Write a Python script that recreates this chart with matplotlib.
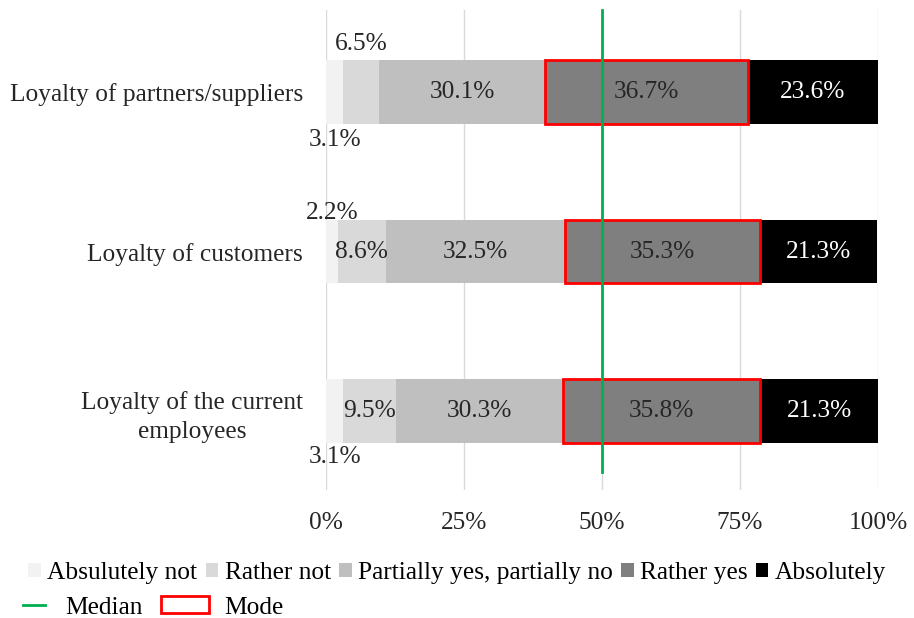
import matplotlib.pyplot as plt
from matplotlib.patches import Patch, Rectangle
from matplotlib.lines import Line2D

plt.rcParams['font.family'] = ['Liberation Serif', 'DejaVu Serif']

categories = ['Loyalty of partners/suppliers', 'Loyalty of customers',
              'Loyalty of the current\nemployees']
answers = ['Absulutely not', 'Rather not', 'Partially yes, partially no',
           'Rather yes', 'Absolutely']
values = [
    [3.1, 6.5, 30.1, 36.7, 23.6],
    [2.2, 8.6, 32.5, 35.3, 21.3],
    [3.1, 9.5, 30.3, 35.8, 21.3],
]
colors = ['#f2f2f2', '#d9d9d9', '#bfbfbf', '#7f7f7f', '#000000']
median = 50
mode_index = 3
# vertical offset of each value label from its bar (0 = inside the bar)
label_dy = [
    [0.30, -0.30, 0, 0, 0],
    [-0.24, 0, 0, 0, 0],
    [0.29, 0, 0, 0, 0],
]

fs = 18.3
fig = plt.figure(figsize=(9.14, 6.18), dpi=100)
ax = fig.add_axes([0.3567, 0.207, 0.6039, 0.7768])

bar_h = 0.4
for i, row in enumerate(values):
    left = 0
    for j, v in enumerate(row):
        ax.barh(i, v, left=left, height=bar_h, color=colors[j], zorder=2)
        dy = label_dy[i][j]
        txt_color = 'white' if (j == 4 and dy == 0) else '#262626'
        ax.text(left + v / 2, i + dy, f'{v}%', ha='center', va='center',
                fontsize=fs, color=txt_color, zorder=4)
        if j == mode_index:
            ax.add_patch(Rectangle((left, i - bar_h / 2), v, bar_h, fill=False,
                                   edgecolor='#ff0000', linewidth=2, zorder=3))
        left += v

ax.plot([median, median], [-0.514, 2.38], color='#00b050', linewidth=2, zorder=5,
        clip_on=False)

ax.set_xlim(0, 100)
ax.set_ylim(2.495, -0.514)
ax.set_xticks([0, 25, 50, 75, 100])
ax.set_xticklabels(['0%', '25%', '50%', '75%', '100%'], fontsize=fs, color='#262626')
ax.set_yticks(range(len(categories)))
ax.set_yticklabels(categories, fontsize=fs, color='#262626', multialignment='center',
                   linespacing=1.4)
ax.tick_params(length=0, pad=16, axis='x')
ax.tick_params(length=0, pad=16.5, axis='y')
ax.grid(axis='x', color='#d9d9d9', linewidth=1, zorder=0)
ax.set_axisbelow(True)
for s in ax.spines.values():
    s.set_visible(False)

handles1 = [Patch(facecolor=c, edgecolor='none') for c in colors]
fig.legend(handles1, answers, loc='center left', bbox_to_anchor=(0.031, 0.0728),
           ncol=5, frameon=False, fontsize=fs, handlelength=0.5,
           handleheight=0.5, handletextpad=0.25, columnspacing=0.32,
           borderpad=0, borderaxespad=0)
fig.legend([Line2D([0], [0], color='#00b050', linewidth=2)], ['Median'],
           loc='center left', bbox_to_anchor=(0.025, 0.017), frameon=False,
           fontsize=fs, handlelength=0.87, handletextpad=0.8,
           borderpad=0, borderaxespad=0)
fig.legend([Patch(facecolor='white', edgecolor='#ff0000', linewidth=2)], ['Mode'],
           loc='center left', bbox_to_anchor=(0.176, 0.017), frameon=False,
           fontsize=fs, handlelength=1.9, handleheight=0.65, handletextpad=0.6,
           borderpad=0, borderaxespad=0)

fig.savefig('out.png', dpi=100)
